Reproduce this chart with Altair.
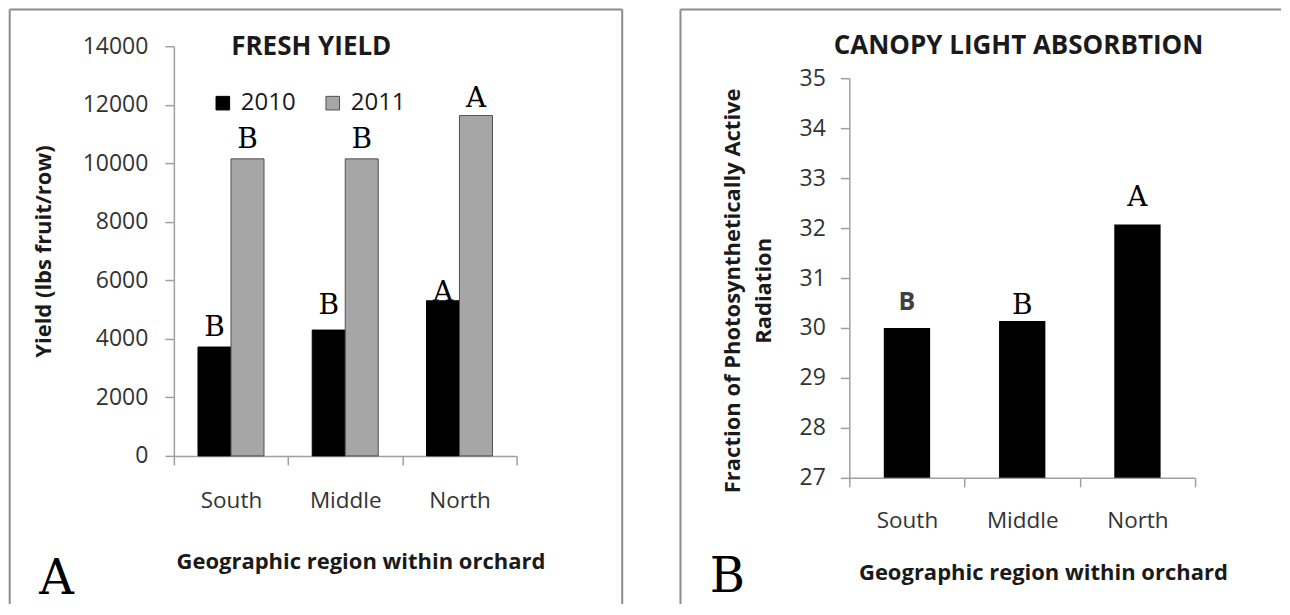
import altair as alt
import pandas as pd

# ---------------- data ----------------
regions = ["South", "Middle", "North"]
years = ["2010", "2011"]
yield_2010 = [3720, 4300, 5300]
yield_2011 = [10150, 10150, 11630]
letters_2010 = ["B", "B", "A"]
letters_2011 = ["B", "B", "A"]
yield_ticks = [0, 2000, 4000, 6000, 8000, 10000, 12000, 14000]

par_values = [30.0, 30.14, 32.07]
par_letters = ["B", "B", "A"]
par_ticks = [27, 28, 29, 30, 31, 32, 33, 34, 35]

df_yield = pd.DataFrame({
    "region": regions * 2,
    "year": [years[0]] * 3 + [years[1]] * 3,
    "yield": yield_2010 + yield_2011,
    "letter": letters_2010 + letters_2011,
})
df_par = pd.DataFrame({"region": regions, "par": par_values, "letter": par_letters})

# ---------------- style ----------------
SANS = "Open Sans"
SERIF = "DejaVu Serif"
AXIS_GREY = "#a0a0a0"
BORDER = "#8c8c8c"
LABEL = "#333333"
DARK = "#1a1a1a"

yield_label_dy = {("South", "2010"): -11, ("South", "2011"): -11,
                  ("Middle", "2010"): -16, ("Middle", "2011"): -11,
                  ("North", "2010"): 0, ("North", "2011"): -9}
par_label_style = {
    "South": dict(font=SANS, fontSize=25, fontWeight="bold", color="#404040", dy=-18),
    "Middle": dict(font=SERIF, fontSize=28, color="black", dy=-7),
    "North": dict(font=SERIF, fontSize=28, color="black", dy=-19),
}

common_axis = dict(tickSize=9, labelFont=SANS, labelColor=LABEL,
                   domainColor=AXIS_GREY, tickColor=AXIS_GREY, domainWidth=1.5,
                   tickWidth=1.5, grid=False, titleFont=SANS, titleFontSize=22,
                   titleFontWeight="bold", titleColor=DARK)

one = alt.Data(values=[{}])


def deco_rule(x, y, x2=None, y2=None):
    enc = dict(x=alt.value(x), y=alt.value(y))
    if x2 is not None:
        enc["x2"] = alt.value(x2)
    if y2 is not None:
        enc["y2"] = alt.value(y2)
    return alt.Chart(one).mark_rule(color=BORDER, strokeWidth=2).encode(**enc)


def deco_text(text, x, y, **kw):
    return alt.Chart(one).mark_text(text=text, baseline="alphabetic", **kw).encode(
        x=alt.value(x), y=alt.value(y))


# ---------------- panel A: fresh yield ----------------
LW, LH = 343, 410
x_left = alt.X("region:N", sort=regions,
               scale=alt.Scale(paddingInner=0, paddingOuter=0),
               axis=alt.Axis(title="Geographic region within orchard", labelAngle=0,
                             tickBand="extent", labelPadding=25, labelFontSize=22.5,
                             titleBaseline="alphabetic", titleX=186.7, titleY=112.6,
                             **common_axis))
xoff_left = alt.XOffset("year:N", sort=years,
                        scale=alt.Scale(paddingInner=0, paddingOuter=0.7306))
y_left = alt.Y("yield:Q", scale=alt.Scale(domain=[0, 14000], nice=False),
               axis=alt.Axis(values=yield_ticks, format="d", labelPadding=17,
                             labelFontSize=23,
                             title="Yield (lbs fruit/row)", titleAngle=270,
                             titleBaseline="alphabetic", titleAlign="center",
                             titleX=-123.3, titleY=205, **common_axis))

base_left = alt.Chart(df_yield).encode(x=x_left, xOffset=xoff_left, y=y_left)

bars_left = base_left.mark_bar(strokeWidth=1).encode(
    fill=alt.Fill("year:N", sort=years,
                  scale=alt.Scale(domain=years, range=["#000000", "#a6a6a6"]),
                  legend=alt.Legend(orient="none", legendX=37, legendY=45,
                                    direction="horizontal", title=None,
                                    symbolType="square", symbolSize=185,
                                    symbolStrokeColor="#404040", symbolStrokeWidth=1,
                                    labelFont=SANS, labelFontSize=24, labelColor=DARK,
                                    labelOffset=6, columnPadding=25, padding=0)),
    stroke=alt.Stroke("year:N", sort=years,
                      scale=alt.Scale(domain=years, range=["#000000", "#505050"]),
                      legend=None),
)

label_layers_left = []
for (reg, yr), dy in yield_label_dy.items():
    label_layers_left.append(
        base_left.mark_text(font=SERIF, fontSize=28, baseline="alphabetic",
                            color="black", dy=dy)
        .encode(text="letter:N")
        .transform_filter((alt.datum.region == reg) & (alt.datum.year == yr))
    )

left = alt.layer(
    bars_left, *label_layers_left,
    deco_text("FRESH YIELD", 57.4, 9.3, align="left", font=SANS, fontSize=26,
              fontWeight="bold", color=DARK),
    deco_text("A", -117.3, 548.3, align="center", font=SERIF, fontSize=48, color="black"),
    deco_rule(-164.3, -36.7, y2=558.3),
    deco_rule(-164.3, -36.7, x2=448.7),
    deco_rule(448.7, -36.7, y2=558.3),
).properties(width=LW, height=LH)

# ---------------- panel B: canopy light absorption ----------------
# plot group shares its top with panel A; the value axis occupies the lower 400 px
RW, RH = 346, 432
x_right = alt.X("region:N", sort=regions,
                scale=alt.Scale(paddingInner=0, paddingOuter=0),
                axis=alt.Axis(title="Geographic region within orchard", labelAngle=0,
                              tickBand="extent", labelPadding=23, labelFontSize=22.5,
                              titleBaseline="alphabetic", titleX=193.7, titleY=101.6,
                              **common_axis))
y_right = alt.Y("par:Q", scale=alt.Scale(domain=[27, 35], range=[432, 32],
                                         nice=False, zero=False),
                axis=alt.Axis(values=par_ticks, format="d", labelPadding=15,
                              labelFontSize=23,
                              title=["Fraction of Photosynthetically Active", "Radiation"],
                              titleAngle=270, titleBaseline="alphabetic",
                              titleAlign="center", titleLineHeight=31,
                              titleX=-110, titleY=244.3, **common_axis))

base_right = alt.Chart(df_par).encode(x=x_right, y=y_right)
bars_right = base_right.mark_bar(width=alt.RelativeBandSize(0.402), color="black").encode(
    y2=alt.datum(27))

label_layers_right = []
for reg, sty in par_label_style.items():
    label_layers_right.append(
        base_right.mark_text(baseline="alphabetic", **sty)
        .encode(text="letter:N")
        .transform_filter(alt.datum.region == reg)
    )

right = alt.layer(
    bars_right, *label_layers_right,
    deco_text("CANOPY LIGHT ABSORBTION", 169.3, 8.3, align="center", font=SANS,
              fontSize=26, fontWeight="bold", color=DARK),
    deco_text("B", -122.1, 546, align="center", font=SERIF, fontSize=48, color="black"),
    deco_rule(-169, -36.7, y2=558.3),
    deco_rule(-169, -36.7, x2=432),
).properties(width=RW, height=RH)

chart = alt.hconcat(left, right, spacing=56).properties(
    padding=0, background="white"
).configure_view(stroke=None)

chart.save("out.html", embed_options={"renderer": "svg", "actions": False})
